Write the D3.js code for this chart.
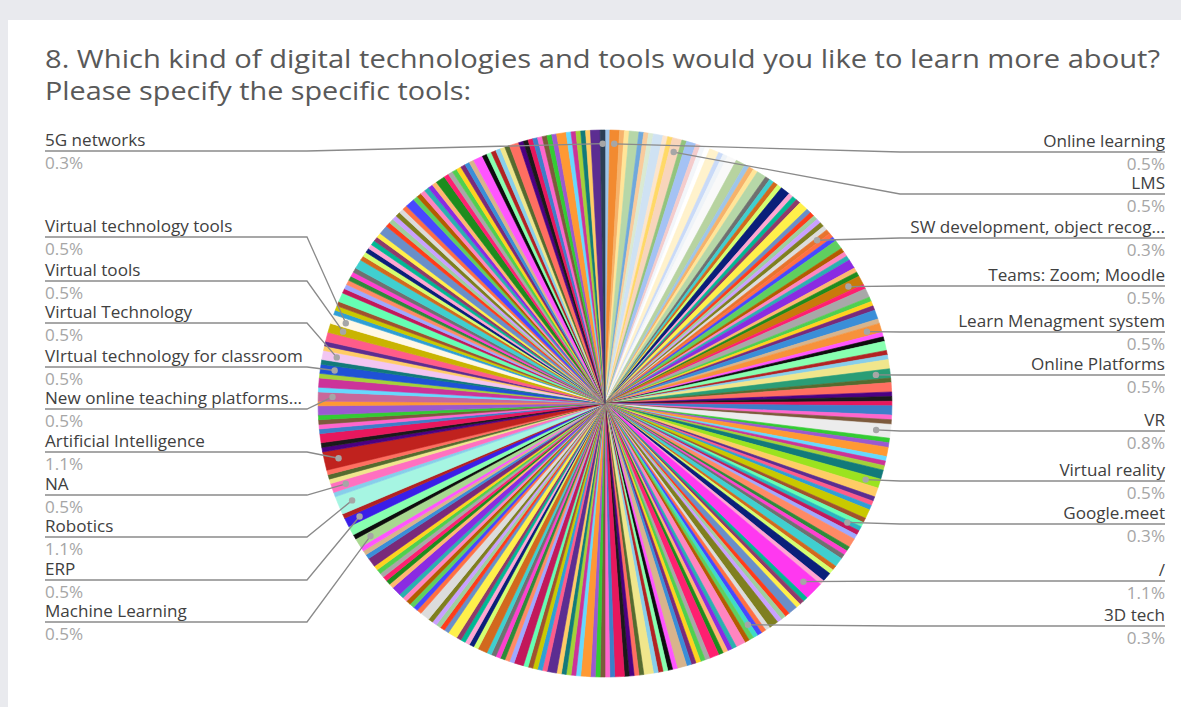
<!DOCTYPE html>
<html>
<head>
<meta charset="utf-8">
<script src="https://cdn.jsdelivr.net/npm/d3@7"></script>
<style>
  html, body { margin: 0; padding: 0; background: #e9eaee; }
  svg { display: block; }
  text { font-family: "Open Sans", "Noto Sans", sans-serif; }
</style>
</head>
<body>
<svg id="chart" width="1181" height="707"></svg>
<script>
// Question title
const titleLines = [
  "8. Which kind of digital technologies and tools would you like to learn more about?",
  "Please specify the specific tools:"
];

// Named answers, in pie order (clockwise from 12 o'clock), with their response counts
const namedAnswers = [
  "Online learning", "LMS", "SW development, object recog...", "Teams: Zoom; Moodle",
  "Learn Menagment system", "Online Platforms", "VR", "Virtual reality", "Google.meet",
  "/", "3D tech", "Machine Learning", "ERP", "Robotics", "NA", "Artificial Intelligence",
  "New online teaching platforms...", "VIrtual technology for classroom", "Virtual Technology",
  "Virtual tools", "Virtual technology tools", "5G networks"
];
const namedCounts = [2, 2, 1, 2, 2, 2, 3, 2, 1, 4, 1, 2, 2, 4, 2, 4, 2, 2, 2, 2, 2, 1];

// Counts of the other (unlabelled) answers that sit before each named answer
const otherRuns = [
  [1],
  [1,1,2,1,1,1,2,1,1],
  [1,2,1,1,1,2,1,1,2,2,1,1,1,2,1,1,1,1,2,1,1,1,2,1,1,1,1,1,1],
  [1,1,2,1,1,1,2,1,1],
  [1,2,1,1,1,2,1],
  [1,1,2,1,1,2],
  [1,2,1,1,1,2,1,1],
  [1,1,2,1,1,1,2],
  [2,1,1,1,2,1,1],
  [1,1,2,1,1,1,2,1,1,2,1],
  [1,1,1,2,1,1,1,2,1,1,1],
  [1,1,2,1,1,1,1,2,1,1, 1,1,1,2,1,1,1,1,1,2, 1,1,1,1,2,1,1,1,1,1, 2,1,1,1,1,1,2,1,1,1,
   1,1,2,1,1,1,1,1,1,2, 1,1,1,1,1,2,1,1,1,1, 1,2,1,1,1,1,1,1,2,1, 1,1,1,1,1,2,1,1,1],
  [1,2],
  [1],
  [1],
  [1,1,1],
  [1,1,2,1,1,1,1,2,1],
  [1,2,1],
  [1],
  [1,1,2],
  [],
  [1,1,1,2,1,1,1,1,1,1, 2,1,1,1,1,1,1,1,2,1, 1,1,1,1,1,2,1,1,1,1, 1,1,2,1,1,1,1,1,1,1,
   2,1,1,1,1,1,1,2,1,1, 1,1,1,1,1,1,2,1,1,1, 1,1,2]
];

// Label placement: which side, and the y of each label's leader row
const labelSide = ["right","right","right","right","right","right","right","right","right","right","right",
  "left","left","left","left","left","left","left","left","left","left","left"];
const labelRowY = [152, 194, 238, 286, 332, 375, 431, 481, 524, 581, 626,
  622, 580, 537, 495, 452, 409, 367, 323, 281, 237, 151];

// Colours
const namedColors = ["#f28a30", "#f8d5bb", "#e8742e", "#c97a0a", "#f7923a", "#2a9d76", "#ececec",
  "#9be31f", "#2bb3c0", "#ff38f0", "#3fdcc6", "#a8d890", "#3a1ee8", "#a6f5e2", "#ff70c0",
  "#c0221e", "#c8689a", "#1f52d6", "#f2c6f2", "#c9b400", "#fff8e6", "#2b3f55"];
const softPalette = ["#9fc5e8", "#f6b26b", "#ffe599", "#b6d7a8", "#6fa8dc", "#f9cb9c", "#d9ead3",
  "#cfe2f3", "#fce5cd", "#ffd966", "#93c47d", "#a4c2f4", "#f4cccc", "#f3f6fa", "#ffffff",
  "#fff2cc", "#c9daf8", "#eef3f8", "#f9f9f9", "#b7d3a0"];
const palette = ["#1a1a1a","#e8175d","#3d7fc9","#ff66cc","#7d5a3c","#33cc33","#9b59d0","#ff9933",
  "#66d9ff","#cc3399","#a3d13a","#127a7a","#ffcc66","#5c2d91","#ff5c8a","#2f9fd6","#c9c900",
  "#a0522d","#66ffb3","#c2185b","#9fa8ff","#ff8a65","#2e8b3a","#ff40d0","#707070","#40cfcf",
  "#d2691e","#d4ff70","#0a1f7a","#ffa6d2","#00b894","#8e3b6b","#fff04a","#6a8fc8","#ff3d1a",
  "#9fcf9f","#c9a0ff","#7f7f1f","#dcdcdc","#ff7043","#4848ff","#5fcf5f","#b35c00","#ff85c0",
  "#2bb0b0","#8a2be2","#ffb870","#1e8c1e","#ff1f70","#a8a8a8","#4fd04f","#ffd21f","#7a2a7a",
  "#3a8ed8","#d8b48c","#ff55ff","#0d0d0d","#88ffb0","#b22222","#87ceeb","#f0e68c","#556b2f",
  "#ff6f61","#4b0082"];

// ---- build slice list ----
const slices = [];
otherRuns.forEach((run, i) => {
  run.forEach(c => slices.push({ name: null, count: c }));
  slices.push({ name: namedAnswers[i], count: namedCounts[i], named: i });
});
const total = d3.sum(slices, d => d.count);

const svg = d3.select("#chart");
const W = 1181, H = 707;

// card
svg.append("rect").attr("x", 8).attr("y", 20).attr("width", W).attr("height", H)
  .attr("fill", "#ffffff");

// title
svg.selectAll("text.title").data(titleLines).join("text")
  .attr("class", "title")
  .attr("x", 45).attr("y", (d, i) => 68 + i * 32)
  .attr("font-size", 25).attr("fill", "#595959")
  .attr("textLength", (d, i) => i === 0 ? 1115 : 426)
  .attr("lengthAdjust", "spacingAndGlyphs")
  .text(d => d);

// pie (drawn slightly wider than tall)
const cx = 605, cy = 403.5, R = 273.5, sx = 1.049;
const pie = d3.pie().sort(null).value(d => d.count);
const arcs = pie(slices);
const arc = d3.arc().innerRadius(0).outerRadius(R);

let otherIdx = 0;
arcs.forEach(a => {
  const d = a.data;
  if (d.named !== undefined) { a.color = namedColors[d.named]; return; }
  const startUnits = a.startAngle / (2 * Math.PI) * total;
  a.color = startUnits < 34 ? softPalette[otherIdx % softPalette.length]
                            : palette[otherIdx % palette.length];
  otherIdx++;
});

const g = svg.append("g").attr("transform", `translate(${cx},${cy}) scale(${sx},1)`);
g.selectAll("path").data(arcs).join("path")
  .attr("d", arc)
  .attr("fill", d => d.color)
  .attr("stroke", d => d.color)
  .attr("stroke-width", 0.6);

// labels
const pct = d3.format(".1%");
const labelled = arcs.filter(a => a.data.named !== undefined);
const lab = svg.append("g");
const addText = (x, y, anchor, color, str) => {
  lab.append("text")
    .attr("transform", `translate(${x},${y}) scale(${sx},1)`)
    .attr("text-anchor", anchor)
    .attr("font-size", 16.3).attr("fill", color).text(str);
};
labelled.forEach(a => {
  const i = a.data.named;
  const mid = (a.startAngle + a.endAngle) / 2;
  const rr = R * 0.95;
  const px = cx + sx * rr * Math.sin(mid);
  const py = cy - rr * Math.cos(mid);
  const y = labelRowY[i];
  const right = labelSide[i] === "right";
  const pts = right
    ? [[px, py], [Math.max(900, px + 20), y], [1165, y]]
    : [[px, py], [Math.min(px - 22, 307), y], [45, y]];
  lab.append("path")
    .attr("d", d3.line()(pts))
    .attr("fill", "none").attr("stroke", "#8a8a8a").attr("stroke-width", 1.3);
  lab.append("circle").attr("cx", px).attr("cy", py).attr("r", 3.2).attr("fill", "#a6a6a6");
  const tx = right ? 1165 : 45;
  const anchor = right ? "end" : "start";
  addText(tx, y - 5, anchor, "#404040", a.data.name);
  addText(tx, y + 18, anchor, "#a6a6a6", pct(a.data.count / total));
});
</script>
</body>
</html>
